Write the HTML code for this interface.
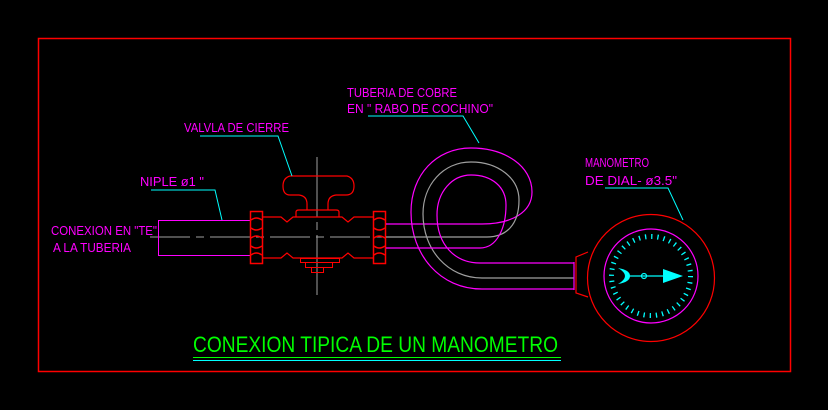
<!DOCTYPE html>
<html><head><meta charset="utf-8"><style>
html,body{margin:0;padding:0;background:#000;}
svg{display:block;}
text{font-family:"Liberation Sans",sans-serif;}
</style></head><body>
<svg width="828" height="410" viewBox="0 0 828 410" xmlns="http://www.w3.org/2000/svg">
<rect width="828" height="410" fill="#000"/>
<rect x="38.5" y="38.5" width="752" height="333" fill="none" stroke="#ff0000" stroke-width="1.5"/>

<!-- centerlines -->
<line x1="317" y1="157" x2="317" y2="300" stroke="#a0a0a0" stroke-width="1" stroke-dasharray="60,5,8,5"/>
<line x1="150" y1="237" x2="400" y2="237" stroke="#a0a0a0" stroke-width="1" stroke-dasharray="40,6,8,6"/>

<!-- left nipple -->
<rect x="158.5" y="220.5" width="92" height="35" fill="none" stroke="#ff00ff" stroke-width="1"/>

<!-- valve handle -->
<path d="M290 176 L347 176 Q354 178 354 186 Q354 195 346 195 L336 195 Q328 196 328 204 L328 210 M307 210 L307 204 Q307 196 299 195 L290 195 Q283 195 283 186 Q283 178 290 176" fill="none" stroke="#ff0000" stroke-width="1.2"/>
<path d="M296 217 L296 212 Q296 210 299 210 L336 210 Q339 210 339 212 L339 217" fill="none" stroke="#ff0000" stroke-width="1.2"/>
<!-- body -->
<path d="M263 217 L281 217 L287 222 L293 217 L342 217 L348 222 L354 217 L373 217" fill="none" stroke="#ff0000" stroke-width="1.2"/>
<path d="M263 258 L281 258 L287 253 L293 258 L342 258 L348 253 L354 258 L373 258" fill="none" stroke="#ff0000" stroke-width="1.2"/>
<rect x="300.5" y="258.5" width="39" height="4" fill="none" stroke="#ff0000" stroke-width="1"/>
<rect x="305.5" y="262.5" width="27" height="5" fill="none" stroke="#ff0000" stroke-width="1"/>
<rect x="311.5" y="267.5" width="12" height="5" fill="none" stroke="#ff0000" stroke-width="1"/>
<!-- nuts -->
<g fill="none" stroke="#ff0000" stroke-width="1.5">
<rect x="250.5" y="211.5" width="12" height="52"/>
<path d="M251 220 Q256 216 262 220 M251 228 Q256 232 262 228 M251 238 Q256 234 262 238 M251 246 Q256 250 262 246 M251 255 Q256 251 262 255"/>
<rect x="373.5" y="211.5" width="12" height="52"/>
<path d="M374 220 Q379 216 385 220 M374 228 Q379 232 385 228 M374 238 Q379 234 385 238 M374 246 Q379 250 385 246 M374 255 Q379 251 385 255"/>
</g>

<!-- copper pigtail -->
<g fill="none" stroke-width="1.2">
<path d="M386 224 L482 224 C512 224 532 212 532 192 C532 166 505 148 471 148 C436 148 411 175 411 212 C411 255 440 289 482 289 L574 289" stroke="#ff00ff"/>
<path d="M386 237 L487 237 C506 237 519 225 519 200 C519 178 498 162 471 162 C443 162 423 185 423 214 C423 250 448 278 482 278 L574 278" stroke="#a0a0a0"/>
<path d="M386 248 L480 248 C497 248 506 228 506 205 C506 187 492 175 471 175 C452 175 437 192 437 215 C437 245 455 263 480 263 L574 263" stroke="#ff00ff"/>
<line x1="574" y1="262" x2="574" y2="290" stroke="#ff00ff"/>
</g>

<!-- gauge -->
<path d="M588 252 L576 257 L576 293 L588 297" fill="none" stroke="#ff0000" stroke-width="1.2"/>
<circle cx="651" cy="278" r="63.5" fill="none" stroke="#ff0000" stroke-width="1.2"/>
<circle cx="651" cy="276" r="47" fill="none" stroke="#ff00ff" stroke-width="1.2"/>
<circle cx="651" cy="276" r="39.5" fill="none" stroke="#00ffff" stroke-width="5" stroke-dasharray="1.3,4.9"/>
<line x1="626" y1="276" x2="665" y2="276" stroke="#00ffff" stroke-width="1.2"/>
<circle cx="644" cy="276" r="2.5" fill="none" stroke="#00ffff" stroke-width="1.2"/>
<polygon points="663,269 683,276 663,283" fill="#00ffff"/>
<path d="M618 268 Q630 270 630 276 Q630 282 618 284 Q625 280 625 276 Q625 272 618 268 Z" fill="#00ffff"/>

<!-- leaders -->
<g fill="none" stroke="#00ffff" stroke-width="1">
<polyline points="368,116 463,116 479,143"/>
<polyline points="200,136 278,136 292,176"/>
<polyline points="151,190 215,190 222,220"/>
<polyline points="605,188 668,188 683,220"/>
</g>

<!-- labels -->
<g fill="#ff00ff" font-size="13">
<text x="347" y="97" textLength="110" lengthAdjust="spacingAndGlyphs">TUBERIA DE COBRE</text>
<text x="347" y="113" textLength="146" lengthAdjust="spacingAndGlyphs">EN " RABO DE COCHINO"</text>
<text x="184" y="132" textLength="105" lengthAdjust="spacingAndGlyphs">VALVLA DE CIERRE</text>
<text x="140" y="186" textLength="64" lengthAdjust="spacingAndGlyphs">NIPLE ø1 "</text>
<text x="51" y="235" textLength="106" lengthAdjust="spacingAndGlyphs">CONEXION EN "TE"</text>
<text x="53" y="252" textLength="78" lengthAdjust="spacingAndGlyphs">A LA TUBERIA</text>
<text x="585" y="167" textLength="64" lengthAdjust="spacingAndGlyphs">MANOMETRO</text>
<text x="585" y="185" textLength="92" lengthAdjust="spacingAndGlyphs">DE DIAL- ø3.5"</text>
</g>

<!-- title -->
<text x="193" y="352" fill="#00ff00" font-size="22" textLength="365" lengthAdjust="spacingAndGlyphs">CONEXION TIPICA DE UN MANOMETRO</text>
<line x1="193" y1="357.5" x2="561" y2="357.5" stroke="#00ff00" stroke-width="1"/>
<line x1="193" y1="360.5" x2="561" y2="360.5" stroke="#00ffff" stroke-width="1"/>
</svg>
</body></html>
